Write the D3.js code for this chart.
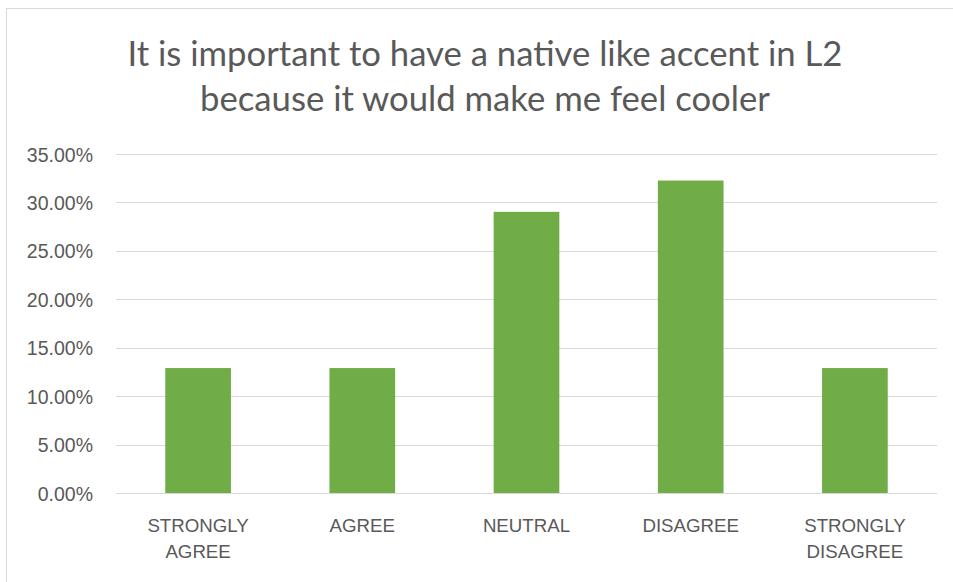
<!DOCTYPE html>
<html>
<head>
<meta charset="utf-8">
<script src="https://cdn.jsdelivr.net/npm/d3@7"></script>
<style>
  html, body { margin: 0; padding: 0; background: #fff; }
  svg { display: block; }
</style>
</head>
<body>
<svg id="chart" width="953" height="582"></svg>
<script>
// Survey responses (share of respondents)
const categories = [["STRONGLY", "AGREE"], ["AGREE"], ["NEUTRAL"], ["DISAGREE"], ["STRONGLY", "DISAGREE"]];
const values = [0.129, 0.129, 0.2903, 0.3226, 0.129];
const yTicks = [0, 0.05, 0.10, 0.15, 0.20, 0.25, 0.30, 0.35];
const titleLines = ["It is important to have a native like accent in L2", "because it would make me feel cooler"];

const svg = d3.select("#chart");
const W = 953, H = 582;
const margin = { left: 116, right: 16, top: 154, bottom: 89 };

// chart area frame
svg.append("rect")
  .attr("x", 6.5).attr("y", 8.5)
  .attr("width", W + 10).attr("height", H + 10)
  .attr("fill", "#fff").attr("stroke", "#d9d9d9").attr("stroke-width", 1);

const x = d3.scaleBand()
  .domain(d3.range(categories.length))
  .range([margin.left, W - margin.right])
  .paddingInner(0.6).paddingOuter(0.3);

const y = d3.scaleLinear()
  .domain([0, 0.35])
  .range([H - margin.bottom, margin.top]);

// gridlines
svg.append("g")
  .selectAll("line")
  .data(yTicks)
  .join("line")
  .attr("x1", margin.left).attr("x2", W - margin.right)
  .attr("y1", d => Math.round(y(d)) + 0.5).attr("y2", d => Math.round(y(d)) + 0.5)
  .attr("stroke", "#d9d9d9").attr("stroke-width", 1);

// y axis labels
const yAxis = d3.axisLeft(y).tickValues(yTicks).tickFormat(d3.format(".2%")).tickSize(0).tickPadding(0);
const gy = svg.append("g").attr("transform", `translate(93,0)`).call(yAxis);
gy.select(".domain").remove();
gy.selectAll("text")
  .attr("fill", "#595959")
  .style("font-family", "'Liberation Sans', Arial, sans-serif")
  .style("font-size", "19.5px")
  .attr("dy", "0.36em");

// bars
svg.append("g")
  .selectAll("rect")
  .data(values)
  .join("rect")
  .attr("x", (d, i) => x(i))
  .attr("width", x.bandwidth())
  .attr("y", d => y(d))
  .attr("height", d => y(0) - y(d))
  .attr("fill", "#70ad47");

// x axis baseline
svg.append("line")
  .attr("x1", margin.left).attr("x2", W - margin.right)
  .attr("y1", Math.round(y(0)) + 0.5).attr("y2", Math.round(y(0)) + 0.5)
  .attr("stroke", "#d9d9d9").attr("stroke-width", 1.2);

// category labels
const xl = svg.append("g")
  .selectAll("text")
  .data(categories)
  .join("text")
  .attr("x", (d, i) => x(i) + x.bandwidth() / 2)
  .attr("y", 532)
  .attr("text-anchor", "middle")
  .attr("fill", "#595959")
  .style("font-family", "'Liberation Sans', Arial, sans-serif")
  .style("font-size", "18.7px");
xl.selectAll("tspan")
  .data(d => d)
  .join("tspan")
  .attr("x", function () { return d3.select(this.parentNode).attr("x"); })
  .attr("dy", (d, i) => i === 0 ? 0 : 26)
  .text(d => d);

// title
svg.append("g")
  .selectAll("text")
  .data(titleLines)
  .join("text")
  .attr("x", 485)
  .attr("y", (d, i) => 65.5 + i * 45)
  .attr("text-anchor", "middle")
  .attr("fill", "#595959")
  .style("font-family", "Lato, 'Open Sans', sans-serif")
  .style("font-size", "34.7px")
  .text(d => d);
</script>
</body>
</html>
